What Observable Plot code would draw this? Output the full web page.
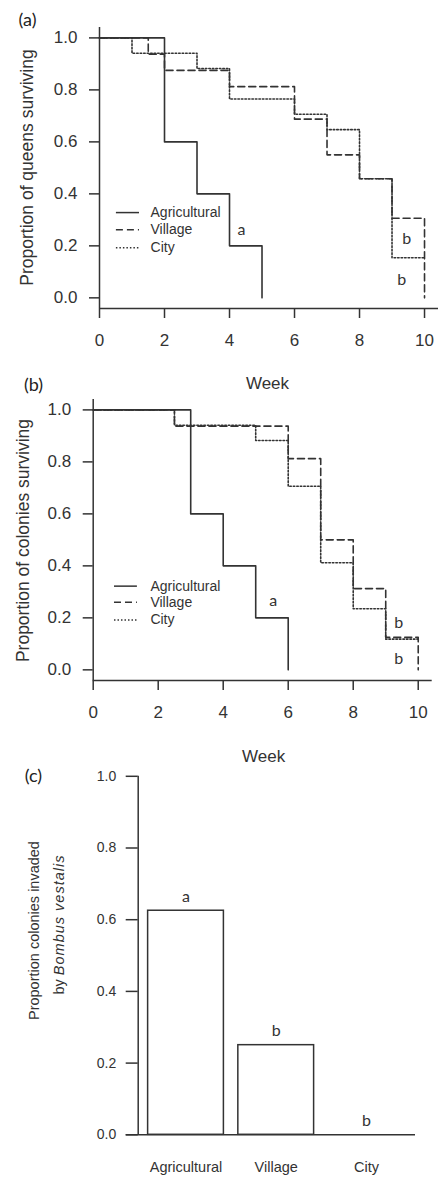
<!DOCTYPE html>
<html>
<head>
<meta charset="utf-8">
<script src="https://cdn.jsdelivr.net/npm/d3@7"></script>
<script src="https://cdn.jsdelivr.net/npm/@observablehq/plot@0.6"></script>
<style>
  html, body { margin: 0; padding: 0; background: #fff; }
  #fig { position: relative; width: 438px; height: 1178px; overflow: hidden; background: #fff; }
  #fig > svg { position: absolute; left: 0; }
</style>
</head>
<body>
<div id="fig"></div>
<script>
// ---------------- DATA ----------------
const seriesNames = ["Agricultural", "Village", "City"];

// (a) Proportion of queens surviving (Kaplan–Meier steps)
const queensAgriWeek = [0, 2, 3, 4, 5];
const queensAgriSurv = [1, 0.6, 0.4, 0.2, 0];
const queensVillWeek = [0, 1.5, 2, 4, 6, 7, 8, 9, 10];
const queensVillSurv = [1, 0.9375, 0.875, 0.8125, 0.6875, 0.55, 0.458, 0.306, 0];
const queensCityWeek = [0, 1, 3, 4, 6, 7, 8, 9, 10];
const queensCitySurv = [1, 0.941, 0.882, 0.765, 0.706, 0.647, 0.458, 0.154, 0.154];
const queensSigLabel = ["a", "b", "b"];
const queensSigWeek = [4.37, 9.45, 9.3];
const queensSigSurv = [0.26, 0.225, 0.07];

// (b) Proportion of colonies surviving
const colAgriWeek = [0, 3, 4, 5, 6];
const colAgriSurv = [1, 0.6, 0.4, 0.2, 0];
const colVillWeek = [0, 2.5, 6, 7, 8, 9, 10];
const colVillSurv = [1, 0.9375, 0.8125, 0.5, 0.3125, 0.125, 0];
const colCityWeek = [0, 2.5, 5, 6, 7, 8, 9, 10];
const colCitySurv = [1, 0.941, 0.882, 0.706, 0.412, 0.235, 0.118, 0.118];
const colSigLabel = ["a", "b", "b"];
const colSigWeek = [5.54, 9.4, 9.4];
const colSigSurv = [0.264, 0.18, 0.042];

// (c) Proportion of colonies invaded by Bombus vestalis
const invadedCats = ["Agricultural", "Village", "City"];
const invadedProp = [0.625, 0.25, 0];
const invadedSig = ["a", "b", "b"];

// ticks / texts
const survTicks = [0, 0.2, 0.4, 0.6, 0.8, 1.0];
const weekTicks = [0, 2, 4, 6, 8, 10];
const propTicks = [0, 0.2, 0.4, 0.6, 0.8, 1.0];
const xTitle = "Week";
const yTitleA = "Proportion of queens surviving";
const yTitleB = "Proportion of colonies surviving";
const yTitleC1 = "Proportion colonies invaded";
const yTitleC2a = "by ";
const yTitleC2b = "Bombus vestalis";

// ---------------- STYLE ----------------
const INK = "#333";
const FONT = "'Liberation Sans', Arial, sans-serif";
const LFONT = "Lato, 'Open Sans', sans-serif";
const dashes = [undefined, "7,4", "1.5,2"];
const fig = document.getElementById("fig");

function survivalPanel(cfg) {
  const yMin = -0.041, yMax = 1.04;
  const curves = cfg.weeks.map((w, i) => d3.zip(w, cfg.survs[i]));
  const letters = cfg.sigLabel.map((l, i) => ({label: l, week: cfg.sigWeek[i], surv: cfg.sigSurv[i]}));
  const marks = [
    Plot.ruleX([0], {y1: yMin, y2: yMax, stroke: INK, strokeWidth: 1.5}),
    Plot.ruleY([yMin], {x1: 0, x2: cfg.xMax, stroke: INK, strokeWidth: 1.5}),
    Plot.axisY({ticks: survTicks, tickFormat: d3.format(".1f"), tickSize: 10, tickPadding: 12, label: null,
      strokeWidth: 1.5, fontSize: 17, fontFamily: FONT}),
    Plot.axisX({ticks: weekTicks, tickFormat: d3.format("d"), tickSize: 10, tickPadding: 15, label: null,
      strokeWidth: 1.5, fontSize: 17, fontFamily: FONT})
  ];
  curves.forEach((c, i) => {
    marks.push(Plot.line(c, {x: d => d[0], y: d => d[1], curve: "step-after",
      stroke: INK, strokeWidth: 1.6, strokeDasharray: dashes[i]}));
  });
  // legend
  seriesNames.forEach((s, i) => {
    marks.push(Plot.ruleY([cfg.legendY[i]], {x1: cfg.legendX1, x2: cfg.legendX2,
      stroke: INK, strokeWidth: 1.5, strokeDasharray: dashes[i]}));
  });
  marks.push(Plot.text(seriesNames, {x: cfg.legendTextX, y: (d, i) => cfg.legendY[i], text: d => d,
    textAnchor: "start", lineAnchor: "middle", fontSize: 14, fontFamily: FONT, fill: INK}));
  // significance letters
  marks.push(Plot.text(letters, {x: "week", y: "surv", text: "label", fontFamily: LFONT,
    fontSize: 16, fill: INK, lineAnchor: "middle"}));
  // panel label, axis titles
  marks.push(Plot.text([cfg.panel], {frameAnchor: "top-left", dx: cfg.panelDx, dy: cfg.panelDy, text: d => d,
    fontFamily: LFONT, fontSize: 18, fill: "#222", textAnchor: "middle", lineAnchor: "middle"}));
  marks.push(Plot.text([cfg.yTitle], {frameAnchor: "left", rotate: -90, dx: cfg.yTitleDx, dy: cfg.yTitleDy,
    text: d => d, textAnchor: "middle", lineAnchor: "middle", fontSize: 17.5, fontFamily: FONT, fill: INK}));
  marks.push(Plot.text([xTitle], {frameAnchor: "bottom", dx: cfg.weekDx, dy: cfg.weekDy,
    text: d => d, lineAnchor: "middle", fontSize: 17, fontFamily: FONT, fill: INK}));

  const svg = Plot.plot({
    width: 438, height: 395,
    marginLeft: cfg.marginLeft, marginRight: cfg.marginRight, marginTop: 27, marginBottom: 87,
    x: {domain: [0, cfg.xMax]},
    y: {domain: [yMin, yMax]},
    style: {background: "transparent", color: INK, fontFamily: FONT, fontSize: "17px", overflow: "visible"},
    marks
  });
  svg.style.top = cfg.top + "px";
  fig.appendChild(svg);
}

survivalPanel({
  top: 0, marginLeft: 99, marginRight: 0, xMax: 10.43,
  weeks: [queensAgriWeek, queensVillWeek, queensCityWeek],
  survs: [queensAgriSurv, queensVillSurv, queensCitySurv],
  sigLabel: queensSigLabel, sigWeek: queensSigWeek, sigSurv: queensSigSurv,
  legendX1: 0.52, legendX2: 1.23, legendTextX: 1.57, legendY: [0.328, 0.262, 0.193],
  panel: "(a)", panelDx: -72, panelDy: -7,
  yTitle: yTitleA, yTitleDx: -72, yTitleDy: -0.5,
  weekDx: -1.5, weekDy: 75
});

survivalPanel({
  top: 372, marginLeft: 92.7, marginRight: 6.3, xMax: 10.43,
  weeks: [colAgriWeek, colVillWeek, colCityWeek],
  survs: [colAgriSurv, colVillSurv, colCitySurv],
  sigLabel: colSigLabel, sigWeek: colSigWeek, sigSurv: colSigSurv,
  legendX1: 0.655, legendX2: 1.36, legendTextX: 1.76, legendY: [0.322, 0.26, 0.192],
  panel: "(b)", panelDx: -59.7, panelDy: -14,
  yTitle: yTitleB, yTitleDx: -69.7, yTitleDy: 0.5,
  weekDx: 1, weekDy: 76
});

// ---------------- PANEL (c) ----------------
(function () {
  const bars = invadedCats.map((c, i) => ({i, cat: c, value: invadedProp[i], sig: invadedSig[i]}));
  const half = 0.42;
  const xLo = -0.53, xHi = 2.544;
  const svg = Plot.plot({
    width: 438, height: 418,
    marginLeft: 137.7, marginRight: 23, marginTop: 15.8, marginBottom: 43.7,
    x: {domain: [xLo, xHi]},
    y: {domain: [0, 1]},
    style: {background: "transparent", color: INK, fontFamily: FONT, fontSize: "14px", overflow: "visible"},
    marks: [
      Plot.rect(bars, {x1: d => d.i - half, x2: d => d.i + half, y1: 0, y2: "value",
        fill: "white", stroke: INK, strokeWidth: 1.5}),
      Plot.ruleY([0], {insetLeft: -12, stroke: INK, strokeWidth: 1.5}),
      Plot.ruleX([xLo], {y1: 0, y2: 1, stroke: INK, strokeWidth: 1.5}),
      Plot.axisY({ticks: propTicks, tickFormat: d3.format(".1f"), tickSize: 12, tickPadding: 10, label: null,
        strokeWidth: 1.5, fontSize: 14, fontFamily: FONT}),
      Plot.axisX({ticks: [0, 1, 2], tickFormat: i => invadedCats[i], tickSize: 0, tickPadding: 27, label: null,
        fontSize: 14.5, fontFamily: FONT}),
      Plot.text(bars, {x: "i", y: "value", text: "sig", dy: -14, fontFamily: LFONT, fontSize: 16,
        fill: INK, lineAnchor: "middle"}),
      Plot.text(["(c)"], {frameAnchor: "top-left", dx: -104.7, dy: 0, text: d => d,
        fontFamily: LFONT, fontSize: 18, fill: "#222", textAnchor: "middle", lineAnchor: "middle"}),
      Plot.text([yTitleC1], {frameAnchor: "left", rotate: -90, dx: -103.7, dy: -25, text: d => d,
        textAnchor: "middle", lineAnchor: "middle", fontSize: 14.5, fontFamily: FONT, fill: INK}),
      Plot.text([yTitleC2a + yTitleC2b], {frameAnchor: "left", rotate: -90, dx: -78.7, dy: -31, text: d => d,
        textAnchor: "middle", lineAnchor: "middle", fontSize: 14.5, fontFamily: FONT, fill: INK})
    ]
  });
  // italicise the species name
  for (const t of svg.querySelectorAll("text")) {
    if (t.textContent === yTitleC2a + yTitleC2b) {
      t.textContent = "";
      const ns = "http://www.w3.org/2000/svg";
      const s1 = document.createElementNS(ns, "tspan");
      s1.textContent = yTitleC2a;
      const s2 = document.createElementNS(ns, "tspan");
      s2.textContent = yTitleC2b;
      s2.setAttribute("font-style", "italic");
      s2.setAttribute("letter-spacing", "1");
      t.appendChild(s1);
      t.appendChild(s2);
    }
  }
  svg.style.top = "760px";
  fig.appendChild(svg);
})();
</script>
</body>
</html>
